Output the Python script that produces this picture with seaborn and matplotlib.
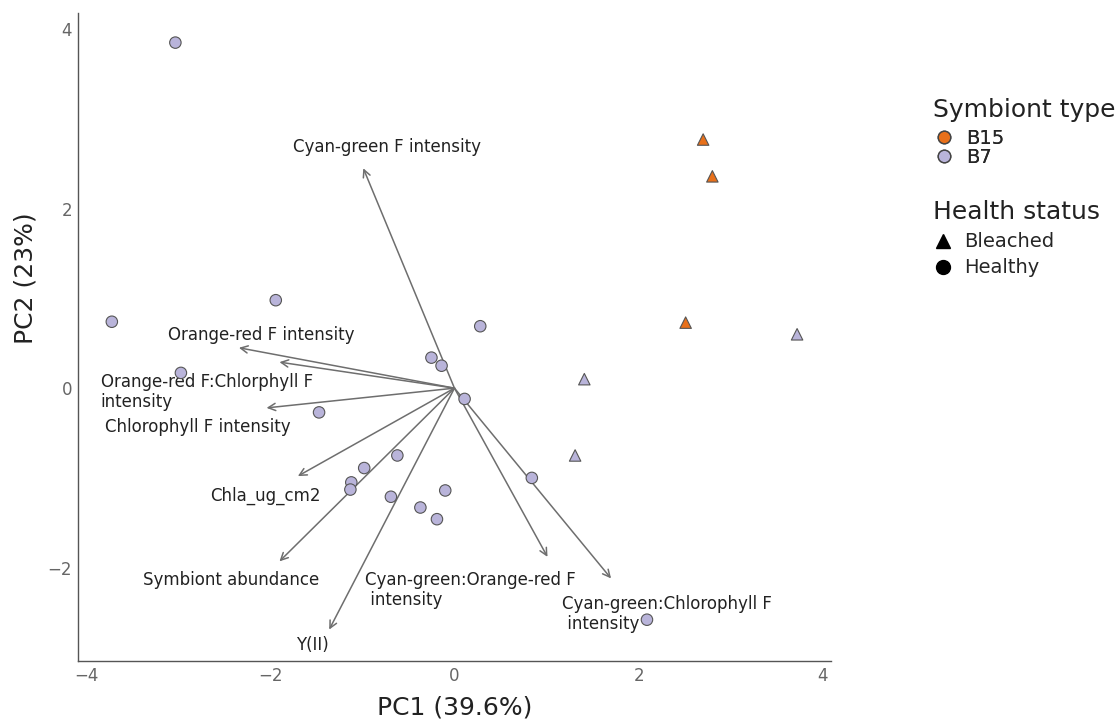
import pandas as pd
import matplotlib.pyplot as plt
import seaborn as sns
from matplotlib.lines import Line2D

# PCA scores
pc1 = [2.70, 2.80, 2.51,
       1.41, 1.31, 3.72,
       -3.03, -1.94, -3.72, -0.25, -0.14, -2.97, -1.47, -0.62, -0.98,
       -1.12, -1.13, -0.69, -0.10, -0.37, -0.19, 0.11, 0.84, 2.09, 0.28]
pc2 = [2.77, 2.36, 0.73,
       0.10, -0.75, 0.60,
       3.85, 0.98, 0.74, 0.34, 0.25, 0.17, -0.27, -0.75, -0.89,
       -1.05, -1.13, -1.21, -1.14, -1.33, -1.46, -0.12, -1.00, -2.58, 0.69]
symbiont = ['B15'] * 3 + ['B7'] * 22
health = ['Bleached'] * 6 + ['Healthy'] * 19

# variable loadings (arrow tips)
var_names = ['Cyan-green F intensity', 'Orange-red F intensity',
             'Orange-red F:Chlorphyll F\nintensity', 'Chlorophyll F intensity',
             'Chla_ug_cm2', 'Symbiont abundance', 'Y(II)',
             'Cyan-green:Orange-red F\n intensity',
             'Cyan-green:Chlorophyll F\n intensity']
load_pc1 = [-0.99, -2.34, -1.90, -2.04, -1.70, -1.90, -1.36, 1.01, 1.70]
load_pc2 = [2.45, 0.45, 0.29, -0.22, -0.98, -1.93, -2.69, -1.88, -2.12]

# where the repelled labels ended up
label_x = [-0.73, -2.10, -3.84, -2.785, -2.05, -2.42, -1.54, -0.97, 1.17]
label_y = [2.69, 0.59, -0.045, -0.43, -1.20, -2.14, -2.86, -2.25, -2.52]
label_ha = ['center', 'center', 'left', 'center', 'center', 'center',
            'center', 'left', 'left']

df = pd.DataFrame({'PC1': pc1, 'PC2': pc2,
                   'Symbiont type': symbiont, 'Health status': health})

sns.set_style('white')
plt.rcParams['font.family'] = ['DejaVu Sans']

colours = {'B15': '#E8701A', 'B7': '#B9B4DA'}
markers = {'Bleached': '^', 'Healthy': 'o'}

fig = plt.figure(figsize=(11.17, 7.22), dpi=100)
ax = fig.add_axes([0.0696, 0.0845, 0.6741, 0.8975])

# loadings arrows
for name, lx, ly, tx, ty, ha in zip(var_names, load_pc1, load_pc2,
                                    label_x, label_y, label_ha):
    ax.annotate('', xy=(lx, ly), xytext=(0, 0),
                arrowprops=dict(arrowstyle='->', color='#6e6e6e', lw=1.1,
                                shrinkA=0, shrinkB=0, mutation_scale=13))
    ax.text(tx, ty, name, ha=ha, va='center', fontsize=12,
            color='#222222', linespacing=1.15)

sns.scatterplot(data=df, x='PC1', y='PC2', hue='Symbiont type',
                style='Health status', palette=colours, markers=markers,
                hue_order=['B15', 'B7'], s=68, edgecolor='#555555',
                linewidth=0.8, legend=False, ax=ax, zorder=3)

ax.set_xlim(-4.09, 4.085)
ax.set_ylim(-3.04, 4.18)
ax.set_xticks([-4, -2, 0, 2, 4])
ax.set_yticks([-2, 0, 2, 4])
ax.set_xticklabels(['\u22124', '\u22122', '0', '2', '4'])
ax.set_yticklabels(['\u22122', '0', '2', '4'])
ax.tick_params(labelsize=12, labelcolor='#666666', length=0, pad=4)
ax.set_xlabel('PC1 (39.6%)', fontsize=18, color='#222222', labelpad=8)
ax.set_ylabel('PC2 (23%)', fontsize=18, color='#222222')
ax.yaxis.set_label_coords(-0.053, 0.591)
sns.despine(ax=ax)
for side in ['left', 'bottom']:
    ax.spines[side].set_color('#555555')
    ax.spines[side].set_linewidth(1.0)

# legends
sym_handles = [Line2D([], [], marker='o', ls='', markersize=9,
                      markerfacecolor=colours[k], markeredgecolor='#444444',
                      label=k) for k in ['B15', 'B7']]
hs_handles = [Line2D([], [], marker=markers[k], ls='', markersize=10,
                     color='black', label=k) for k in ['Bleached', 'Healthy']]

fig.text(0.835, 0.8476, 'Symbiont type', fontsize=18, color='#222222',
         ha='left', va='center')
fig.text(0.835, 0.7064, 'Health status', fontsize=18, color='#222222',
         ha='left', va='center')

leg1 = fig.legend(handles=sym_handles, loc='upper left',
                  bbox_to_anchor=(0.835, 0.822), frameon=False, fontsize=14,
                  handletextpad=0.5, labelspacing=0.0, borderaxespad=0,
                  borderpad=0, handlelength=1.2)
leg2 = fig.legend(handles=hs_handles, loc='upper left',
                  bbox_to_anchor=(0.835, 0.678), frameon=False, fontsize=14,
                  handletextpad=0.5, labelspacing=0.36, borderaxespad=0,
                  borderpad=0, handlelength=1.1)
fig.add_artist(leg1)

fig.savefig('out.png', dpi=100)
